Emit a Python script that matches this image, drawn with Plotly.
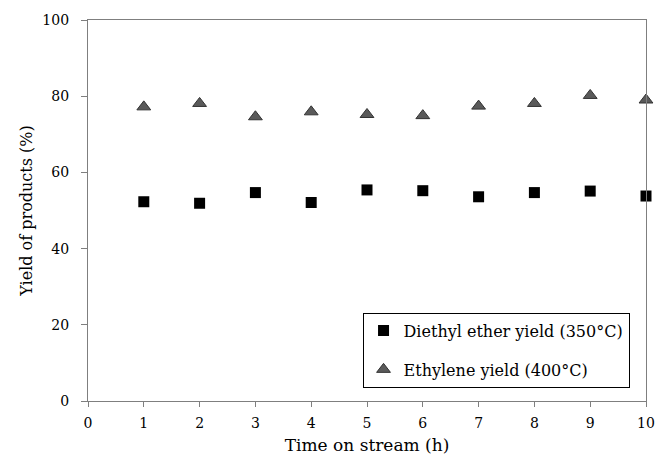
import plotly.graph_objects as go

hours = [1, 2, 3, 4, 5, 6, 7, 8, 9, 10]
diethyl_ether = [52.3, 51.9, 54.7, 52.1, 55.4, 55.2, 53.6, 54.7, 55.1, 53.8]
ethylene = [77.2, 78.1, 74.6, 75.9, 75.2, 74.9, 77.4, 78.1, 80.2, 79.0]

x_ticks = [0, 1, 2, 3, 4, 5, 6, 7, 8, 9, 10]
y_ticks = [0, 20, 40, 60, 80, 100]

FONT = "DejaVu Serif"
AXIS_COLOR = "#7f7f7f"

fig = go.Figure()
fig.add_trace(go.Scatter(
    x=hours, y=diethyl_ether, mode="markers",
    name="Diethyl ether yield (350°C)", legendgroup="a",
    marker=dict(symbol="square", size=11, color="#000000",
                line=dict(width=0)),
    cliponaxis=False,
))
fig.add_trace(go.Scatter(
    x=hours, y=ethylene, mode="markers",
    name="Ethylene yield (400°C)", legendgroup="b",
    marker=dict(symbol="triangle-up", size=12, color="#5a5a5a",
                line=dict(width=1, color="#333333")),
    cliponaxis=False,
))

axis_common = dict(
    showgrid=False, zeroline=False, showline=True, linecolor=AXIS_COLOR,
    linewidth=1.2, mirror=True, ticks="outside",
    tickcolor=AXIS_COLOR, tickwidth=1, automargin=False,
    tickfont=dict(family=FONT, size=14, color="#000000"),
)

fig.update_layout(
    width=657, height=455,
    margin=dict(l=88, r=11, t=20, b=54),
    paper_bgcolor="white", plot_bgcolor="white",
    font=dict(family=FONT, color="#000000"),
    xaxis=dict(range=[0, 10], tickvals=x_ticks, ticklen=5,
               ticklabelstandoff=4,
               title=dict(text="Time on stream (h)",
                          font=dict(family=FONT, size=17), standoff=13),
               **axis_common),
    yaxis=dict(range=[0, 100], tickvals=y_ticks, ticklen=6,
               ticklabelstandoff=9,
               title=dict(text="Yield of products (%)",
                          font=dict(family=FONT, size=16), standoff=5),
               **axis_common),
    legend=dict(x=0.492, y=0.035, xanchor="left", yanchor="bottom",
                bordercolor="#000000", borderwidth=1, bgcolor="white",
                font=dict(family=FONT, size=16), tracegroupgap=15,
                itemwidth=30),
    showlegend=True,
)

fig.write_html("out.html")
